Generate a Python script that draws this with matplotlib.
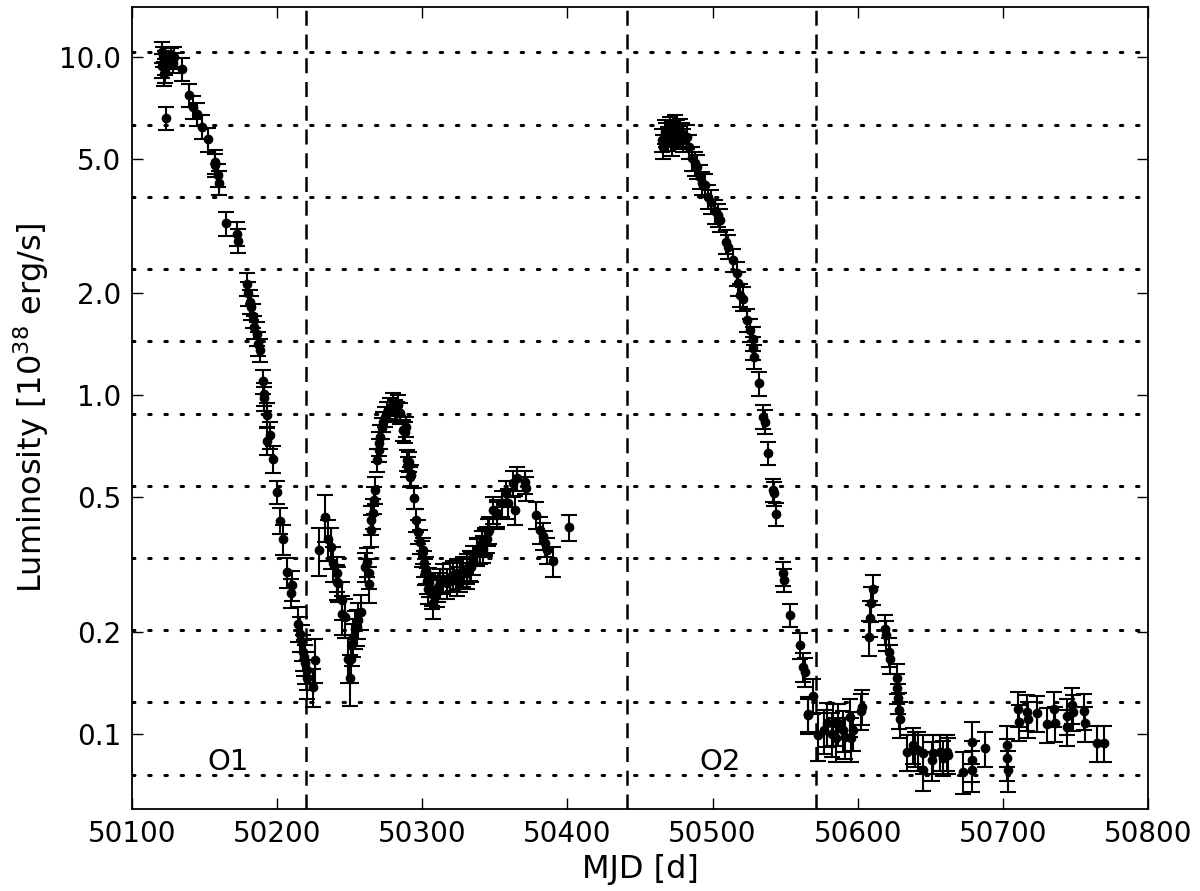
import numpy as np
import matplotlib
matplotlib.use("Agg")
import matplotlib.pyplot as plt
from matplotlib.ticker import FixedLocator, FormatStrFormatter, NullLocator

# --- outburst O1 decay (MJD, L in 1e38 erg/s, fractional error)
mjd1 = [50120.5, 50121.0, 50121.6, 50122.0, 50122.7, 50122.9, 50123.4, 50127.0, 50128.5,
        50129.1, 50134.7, 50139.3, 50142.2, 50144.6, 50148.4, 50152.2, 50157.2, 50157.5,
        50159.5, 50159.7, 50164.8, 50172.5, 50172.8, 50179.0, 50179.7, 50181.3, 50182.0,
        50183.6, 50184.1, 50185.9, 50187.0, 50188.2, 50190.5, 50190.7, 50191.0, 50192.8,
        50193.0, 50195.1, 50196.9, 50200.1, 50202.0, 50204.2, 50207.0, 50209.7, 50210.0,
        50214.2, 50215.7, 50216.9, 50217.6, 50218.5, 50219.2, 50220.4, 50220.8, 50224.5,
        50226.1]
lum1 = [10.3, 9.4, 10.0, 8.9, 9.6, 9.1, 6.58, 9.9, 9.6,
        10.0, 9.2, 7.71, 7.09, 6.77, 6.21, 5.70, 4.79, 4.90,
        4.47, 4.25, 3.22, 3.00, 2.86, 2.13, 2.00, 1.89, 1.82,
        1.72, 1.59, 1.52, 1.42, 1.36, 1.10, 1.01, 0.98, 0.734,
        0.877, 0.764, 0.649, 0.519, 0.427, 0.376, 0.300, 0.261, 0.275,
        0.212, 0.198, 0.187, 0.175, 0.169, 0.162, 0.155, 0.146, 0.138,
        0.166]
err1 = [0.07, 0.08, 0.07, 0.08, 0.08, 0.08, 0.08, 0.07, 0.07,
        0.07, 0.08, 0.08, 0.08, 0.08, 0.08, 0.08, 0.08, 0.08,
        0.08, 0.08, 0.08, 0.08, 0.08, 0.08, 0.08, 0.08, 0.08,
        0.08, 0.08, 0.08, 0.08, 0.08, 0.08, 0.08, 0.08, 0.09,
        0.08, 0.09, 0.09, 0.08, 0.09, 0.10, 0.10, 0.10, 0.10,
        0.12, 0.12, 0.12, 0.12, 0.12, 0.13, 0.13, 0.13, 0.13,
        0.15]

# --- mini outbursts between O1 and O2
mjd2 = [50229.0, 50233.0, 50235.3, 50237.0, 50238.7, 50241.0, 50241.5, 50242.0, 50244.5,
        50245.0, 50247.0, 50249.0, 50250.2, 50250.7, 50251.4, 50252.5, 50253.6, 50254.8,
        50256.0, 50258.0, 50260.5, 50261.7, 50263.0, 50263.3, 50264.7, 50265.0, 50266.0,
        50267.0, 50267.5, 50269.0, 50270.0, 50270.4, 50271.0, 50272.0, 50273.0, 50274.3,
        50276.0, 50278.0, 50280.0, 50281.0, 50282.4, 50283.5, 50284.6, 50287.0, 50288.0,
        50288.5, 50289.7, 50290.4, 50291.0, 50291.5, 50292.0, 50294.0, 50295.7, 50297.3,
        50298.4, 50300.0, 50300.5, 50301.0, 50302.0, 50302.5, 50303.0, 50304.0, 50304.5,
        50306.5, 50307.0, 50307.6, 50310.0, 50310.5, 50312.0, 50314.5, 50317.0, 50319.0,
        50321.4, 50323.7, 50324.0, 50326.0, 50326.5, 50328.3, 50330.6, 50331.0, 50333.0,
        50333.5, 50335.0, 50337.5, 50338.0, 50340.0, 50341.0, 50341.5, 50343.0, 50343.5,
        50344.4, 50345.5, 50346.0, 50349.0, 50351.3, 50351.8, 50354.7, 50358.0, 50359.3,
        50362.7, 50364.0, 50365.0, 50371.0, 50371.5, 50378.0, 50381.0, 50383.4, 50384.6,
        50386.0, 50390.0, 50401.0]
lum2 = [0.349, 0.438, 0.376, 0.357, 0.319, 0.282, 0.298, 0.279, 0.249,
        0.226, 0.221, 0.167, 0.146, 0.167, 0.185, 0.194, 0.205, 0.207,
        0.217, 0.230, 0.312, 0.323, 0.298, 0.278, 0.400, 0.429, 0.449,
        0.491, 0.526, 0.645, 0.690, 0.722, 0.755, 0.800, 0.836, 0.866,
        0.895, 0.915, 0.947, 0.906, 0.895, 0.935, 0.885, 0.790, 0.780,
        0.808, 0.645, 0.616, 0.637, 0.575, 0.582, 0.497, 0.429, 0.396,
        0.370, 0.342, 0.349, 0.319, 0.302, 0.305, 0.284, 0.269, 0.282,
        0.260, 0.266, 0.243, 0.263, 0.272, 0.279, 0.288, 0.279, 0.291,
        0.294, 0.298, 0.284, 0.291, 0.298, 0.302, 0.309, 0.298, 0.315,
        0.312, 0.327, 0.349, 0.345, 0.349, 0.366, 0.352, 0.373, 0.370,
        0.376, 0.396, 0.400, 0.459, 0.449, 0.444, 0.480, 0.514, 0.480,
        0.550, 0.459, 0.569, 0.555, 0.531, 0.444, 0.401, 0.385, 0.366,
        0.349, 0.324, 0.408]
err2 = [0.16, 0.16, 0.14, 0.14, 0.12, 0.12, 0.12, 0.12, 0.13,
        0.13, 0.13, 0.15, 0.17, 0.15, 0.14, 0.13, 0.13, 0.12,
        0.12, 0.12, 0.10, 0.10, 0.10, 0.12, 0.11, 0.10, 0.10,
        0.09, 0.09, 0.08, 0.08, 0.08, 0.08, 0.07, 0.07, 0.07,
        0.07, 0.07, 0.07, 0.07, 0.07, 0.07, 0.07, 0.07, 0.07,
        0.07, 0.07, 0.07, 0.07, 0.07, 0.07, 0.07, 0.08, 0.08,
        0.08, 0.09, 0.09, 0.09, 0.09, 0.09, 0.09, 0.10, 0.10,
        0.10, 0.10, 0.10, 0.10, 0.10, 0.10, 0.10, 0.10, 0.10,
        0.10, 0.10, 0.10, 0.10, 0.10, 0.10, 0.10, 0.10, 0.10,
        0.10, 0.10, 0.09, 0.09, 0.09, 0.09, 0.09, 0.09, 0.09,
        0.09, 0.09, 0.09, 0.09, 0.09, 0.09, 0.09, 0.09, 0.10,
        0.09, 0.10, 0.08, 0.08, 0.08, 0.09, 0.09, 0.09, 0.09,
        0.09, 0.10, 0.09]

# --- outburst O2 and the low state after it
mjd3 = [50465.0, 50466.1, 50467.2, 50468.0, 50469.5, 50470.7, 50471.8, 50473.0, 50474.1,
        50475.3, 50476.4, 50477.6, 50478.6, 50479.8, 50482.2, 50484.0, 50485.6, 50487.9,
        50489.5, 50491.3, 50492.5, 50494.8, 50497.1, 50498.9, 50501.7, 50504.0, 50505.1,
        50509.3, 50510.9, 50513.9, 50516.6, 50517.7, 50518.9, 50521.2, 50523.5, 50525.8,
        50527.7, 50528.1, 50528.6, 50532.2, 50535.0, 50536.1, 50538.4, 50541.9, 50542.3,
        50543.7, 50548.7, 50549.2, 50553.4, 50560.2, 50562.5, 50563.7, 50565.5,
        50566.0, 50569.4, 50572.9, 50576.8, 50578.6, 50582.1, 50583.2, 50585.1, 50586.6,
        50589.7, 50591.3, 50594.7, 50595.2, 50597.0, 50602.3, 50602.8, 50608.0, 50608.5,
        50609.2, 50610.3, 50618.8, 50619.5, 50621.8, 50622.3, 50626.9, 50627.3, 50627.7,
        50628.7, 50629.0, 50633.8, 50638.3, 50639.5, 50641.8, 50644.8, 50645.0, 50651.0,
        50652.1, 50656.7, 50659.0, 50661.3, 50662.4, 50672.8, 50678.5, 50678.7, 50679.0,
        50687.7, 50702.7, 50703.0, 50703.3, 50710.7, 50711.0, 50716.9, 50717.6, 50723.8,
        50730.6, 50735.5, 50735.8, 50744.0, 50744.4, 50747.4, 50748.5, 50756.1, 50756.4,
        50764.7, 50769.7]
lum3 = [5.68, 5.42, 6.00, 5.90, 5.74, 6.15, 5.55, 5.94, 6.21,
        6.00, 5.81, 6.08, 5.90, 5.68, 5.81, 5.42, 5.01, 4.84,
        4.73, 4.42, 4.23, 4.18, 3.86, 3.73, 3.49, 3.41, 3.29,
        2.84, 2.75, 2.51, 2.29, 2.14, 1.98, 1.93, 1.67, 1.56,
        1.47, 1.38, 1.30, 1.085, 0.865, 0.836, 0.675, 0.525, 0.514,
        0.447, 0.298, 0.285, 0.2245, 0.183, 0.158, 0.153, 0.115,
        0.1137, 0.130, 0.0993, 0.1027, 0.1076, 0.1004, 0.1076, 0.0971, 0.1076,
        0.1027, 0.0982, 0.1125, 0.0971, 0.1027, 0.117, 0.1205, 0.193, 0.220,
        0.243, 0.2675, 0.204, 0.196, 0.175, 0.167, 0.146, 0.1365, 0.1275,
        0.1177, 0.111, 0.0887, 0.0928, 0.0907, 0.0897, 0.0877, 0.0783, 0.0838,
        0.0877, 0.0887, 0.0852, 0.0887, 0.0867, 0.0775, 0.095, 0.0838, 0.0783,
        0.0907, 0.0928, 0.0848, 0.0783, 0.119, 0.1087, 0.1164, 0.111, 0.1156,
        0.1068, 0.119, 0.1076, 0.113, 0.105, 0.1218, 0.1164, 0.1172, 0.1076,
        0.0942, 0.0942]
err3 = [0.08, 0.08, 0.08, 0.08, 0.08, 0.08, 0.08, 0.08, 0.08,
        0.08, 0.08, 0.08, 0.08, 0.08, 0.08, 0.08, 0.08, 0.08,
        0.08, 0.08, 0.08, 0.08, 0.08, 0.08, 0.08, 0.08, 0.08,
        0.08, 0.08, 0.08, 0.08, 0.08, 0.08, 0.08, 0.08, 0.08,
        0.08, 0.08, 0.08, 0.08, 0.08, 0.08, 0.08, 0.08, 0.08,
        0.08, 0.08, 0.08, 0.08, 0.09, 0.10, 0.10, 0.12,
        0.12, 0.12, 0.16, 0.15, 0.15, 0.15, 0.14, 0.15, 0.14,
        0.14, 0.14, 0.13, 0.15, 0.13, 0.12, 0.12, 0.12, 0.12,
        0.12, 0.10, 0.10, 0.10, 0.10, 0.10, 0.10, 0.10, 0.10,
        0.12, 0.12, 0.12, 0.12, 0.12, 0.13, 0.13, 0.13, 0.13,
        0.13, 0.12, 0.12, 0.12, 0.12, 0.14, 0.14, 0.14, 0.14,
        0.12, 0.14, 0.14, 0.14, 0.12, 0.12, 0.12, 0.12, 0.12,
        0.12, 0.12, 0.12, 0.12, 0.12, 0.12, 0.12, 0.12, 0.12,
        0.12, 0.12]

# horizontal reference levels and the dashed epochs
levels = [10.3, 6.30, 3.86, 2.36, 1.445, 0.884, 0.541, 0.331, 0.2027, 0.124, 0.0759]
epochs = [50220, 50441, 50571]
yticks = [0.1, 0.2, 0.5, 1.0, 2.0, 5.0, 10.0]

mjd = np.array(mjd1 + mjd2 + mjd3)
lum = np.array(lum1 + lum2 + lum3)
frac = np.array(err1 + err2 + err3)

plt.rcParams["font.family"] = "DejaVu Sans"
plt.rcParams["font.size"] = 20
plt.rcParams["mathtext.default"] = "regular"

fig = plt.figure(figsize=(12, 8.91), dpi=100)
ax = fig.add_axes([0.11, 0.092, 0.8467, 0.9])

for lv in levels:
    ax.axhline(lv, color="k", ls=(0, (0.8, 4.5)), lw=2.2, dash_capstyle="round", zorder=1)
for ep in epochs:
    ax.axvline(ep, color="k", ls=(0, (6, 3.5)), lw=1.8, zorder=1)

ax.errorbar(mjd, lum, yerr=frac * lum, fmt="o", color="k", ms=6, mec="k",
            ecolor="k", elinewidth=1.5, capsize=6, capthick=1.5, zorder=3)

ax.text(50166, 0.083, "O1", ha="center", va="center", fontsize=21)
ax.text(50505, 0.083, "O2", ha="center", va="center", fontsize=21)

ax.set_yscale("log")
ax.set_xlim(50100, 50800)
ax.set_ylim(0.0601, 14.0)
ax.yaxis.set_major_locator(FixedLocator(yticks))
ax.yaxis.set_major_formatter(FormatStrFormatter("%.1f"))
ax.yaxis.set_minor_locator(NullLocator())
ax.xaxis.set_major_locator(FixedLocator(np.arange(50100, 50801, 100)))
ax.tick_params(direction="in", top=True, right=True, length=8, width=1, pad=8)
for s in ax.spines.values():
    s.set_linewidth(1.3)

ax.set_xlabel("MJD [d]", fontsize=23, labelpad=4)
ax.set_ylabel("Luminosity [$10^{38}$ erg/s]", fontsize=23, labelpad=6)

fig.savefig("out.png", dpi=100)
